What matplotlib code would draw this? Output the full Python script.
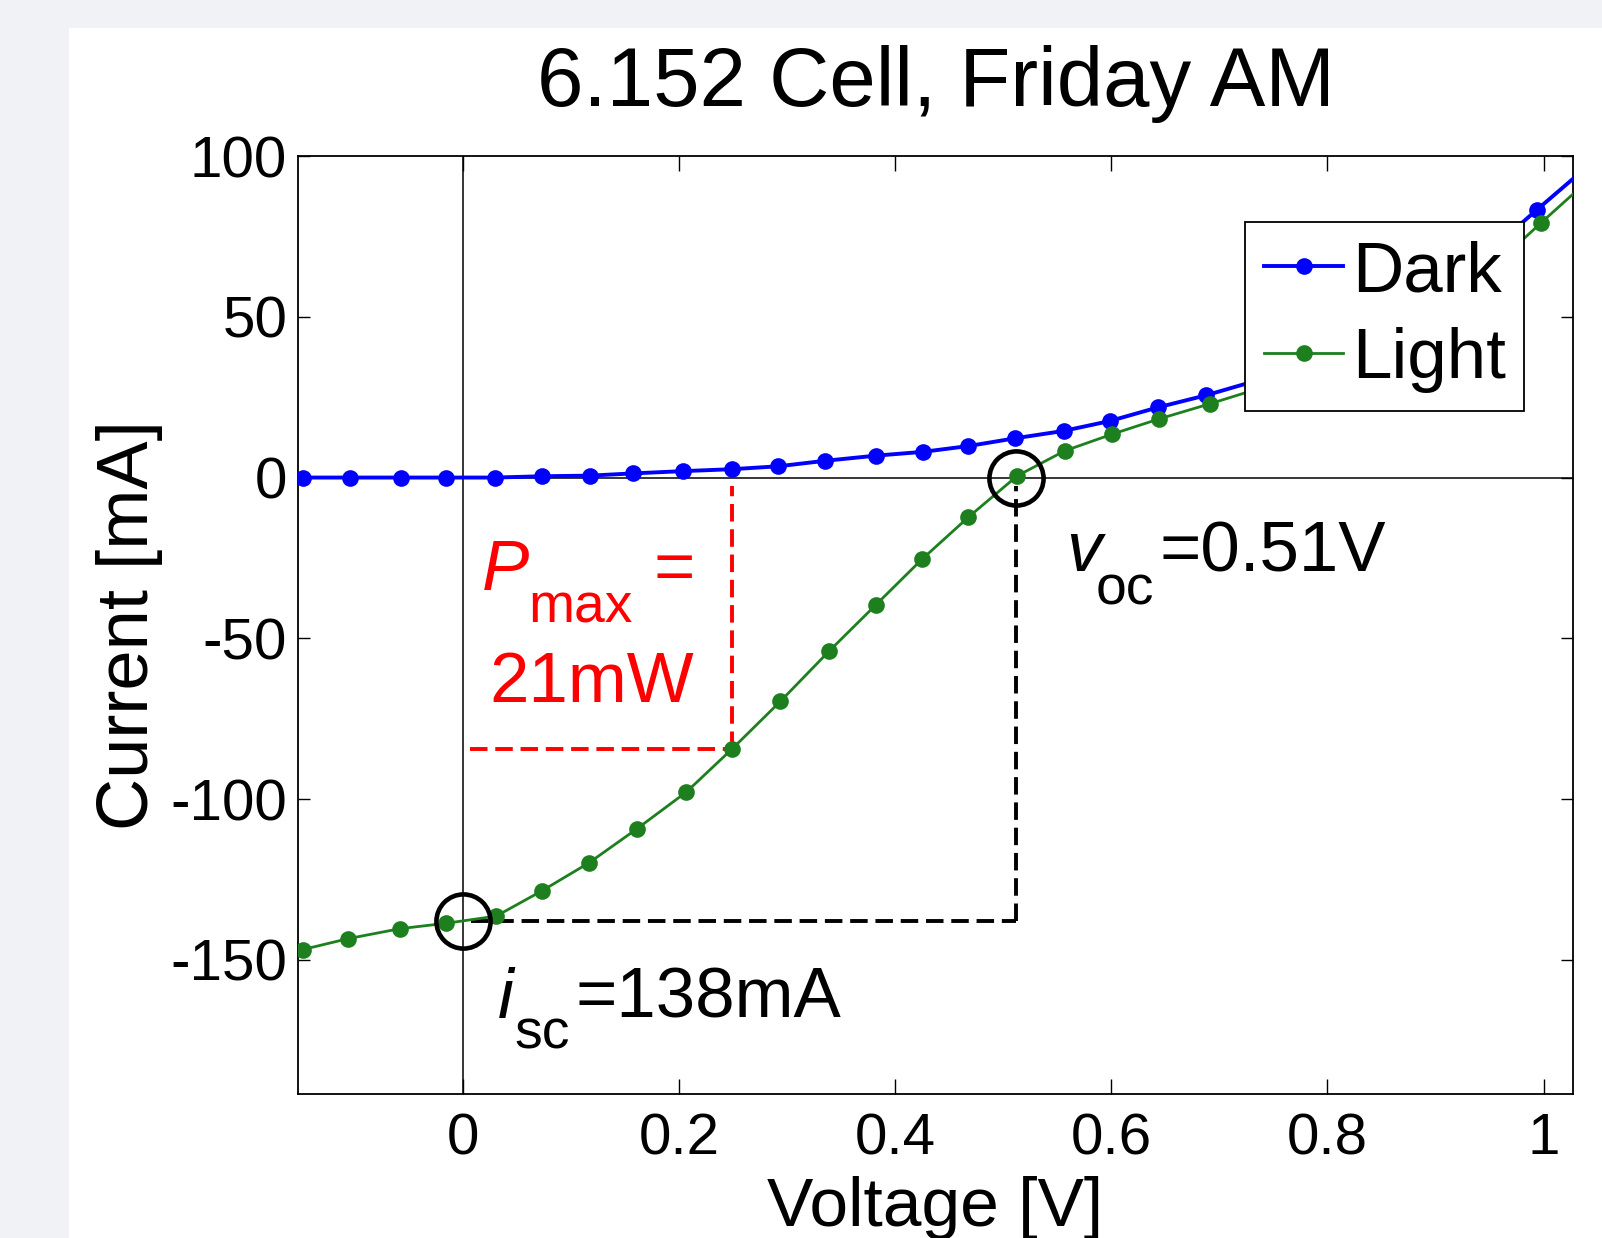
import matplotlib
matplotlib.use("Agg")
import matplotlib.pyplot as plt
from matplotlib.patches import Rectangle

# ---------------- data ----------------
dark_v = [-0.148, -0.104, -0.057, -0.015, 0.030, 0.073, 0.118, 0.158, 0.204, 0.249,
          0.292, 0.335, 0.382, 0.426, 0.468, 0.511, 0.556, 0.599, 0.643, 0.688,
          0.733, 0.777, 0.821, 0.865, 0.909, 0.952, 0.994, 1.038]
dark_i = [0.0, 0.0, 0.0, 0.0, 0.0, 0.4, 0.6, 1.3, 2.0, 2.6,
          3.5, 5.2, 6.8, 8.0, 9.8, 12.2, 14.5, 17.6, 21.8, 25.6,
          30.0, 36.0, 43.0, 51.0, 60.0, 71.0, 83.3, 96.0]

light_v = [-0.148, -0.106, -0.058, -0.015, 0.031, 0.073, 0.117, 0.161, 0.207, 0.249,
           0.294, 0.339, 0.382, 0.425, 0.468, 0.513, 0.557, 0.601, 0.644, 0.691,
           0.735, 0.779, 0.823, 0.867, 0.911, 0.955, 0.998, 1.040]
light_i = [-146.8, -143.4, -140.3, -138.6, -136.4, -128.6, -119.8, -109.3, -97.8, -84.5,
           -69.6, -54.0, -39.7, -25.4, -12.3, 0.5, 8.3, 13.5, 18.2, 22.9,
           27.5, 33.0, 40.0, 47.5, 56.0, 66.0, 79.3, 92.0]

isc = -138.0      # mA
voc = 0.512       # V
pmp_v = 0.249     # V
pmp_i = -84.5     # mA

xticks = [0, 0.2, 0.4, 0.6, 0.8, 1.0]
xticklabels = ["0", "0.2", "0.4", "0.6", "0.8", "1"]
yticks = [-150, -100, -50, 0, 50, 100]
yticklabels = ["-150", "-100", "-50", "0", "50", "100"]

title = "6.152 Cell, Friday AM"
xlabel = "Voltage [V]"
ylabel = "Current [mA]"

# ---------------- figure ----------------
plt.rcParams['font.family'] = ['Liberation Sans', 'DejaVu Sans']

W, H = 1602, 1238
fig = plt.figure(figsize=(W / 100, H / 100), dpi=100)
fig.patch.set_facecolor('#f0f2f5')
fig.add_artist(Rectangle((69 / W, 0), 1, 1 - 28 / H, transform=fig.transFigure,
                         facecolor='white', edgecolor='none', zorder=0))

ax = fig.add_axes([298.3 / W, 1 - 1094.3 / H, (1572.7 - 298.3) / W, (1094.3 - 156) / H])
ax.set_facecolor('white')
ax.set_xlim(-0.152, 1.027)
ax.set_ylim(-191.8, 100)

# reference axes lines
ax.axhline(0, color='black', lw=1.1, zorder=1)
ax.axvline(0, color='black', lw=1.1, zorder=1)

# data
blue = '#0000ff'
green = '#1e7f1e'
ax.plot(dark_v, dark_i, '-', color=blue, lw=2.8, marker='o', ms=12, mec='none',
        label='Dark', zorder=3)
ax.plot(light_v, light_i, '-', color=green, lw=2.0, marker='o', ms=12, mec='none',
        label='Light', zorder=3)

# Pmax rectangle (red dashed)
dash = (4.5, 2.0)
ax.plot([0.007, pmp_v], [pmp_i, pmp_i], color='red', lw=2.8, dashes=dash, zorder=2)
ax.plot([pmp_v, pmp_v], [pmp_i, -2.5], color='red', lw=2.8, dashes=dash, zorder=2)

# isc / voc (black dashed)
ax.plot([0.008, voc], [isc, isc], color='black', lw=2.8, dashes=dash, zorder=2)
ax.plot([voc, voc], [isc, -2.5], color='black', lw=2.8, dashes=dash, zorder=2)

# circles
ax.plot([0], [isc], 'o', ms=39, mfc='none', mec='black', mew=3.3, zorder=4)
ax.plot([voc], [0], 'o', ms=39, mfc='none', mec='black', mew=3.3, zorder=4)

# annotations
fs_ann = 51
ax.text(0.018, -34.9, "P", color='red', fontsize=fs_ann, fontstyle='italic',
        ha='left', va='baseline')
ax.text(0.061, -45.0, "max", color='red', fontsize=fs_ann * 0.78,
        ha='left', va='baseline')
ax.text(0.177, -34.9, "=", color='red', fontsize=fs_ann, ha='left', va='baseline')
ax.text(0.025, -69.9, "21mW", color='red', fontsize=fs_ann, ha='left', va='baseline')

ax.text(0.558, -29.1, "v", color='black', fontsize=fs_ann, fontstyle='italic',
        ha='left', va='baseline')
ax.text(0.586, -39.4, "oc", color='black', fontsize=fs_ann * 0.78,
        ha='left', va='baseline')
ax.text(0.645, -29.1, "=0.51V", color='black', fontsize=fs_ann, ha='left', va='baseline')

ax.text(0.033, -168.0, "i", color='black', fontsize=fs_ann, fontstyle='italic',
        ha='left', va='baseline')
ax.text(0.0475, -177.6, "sc", color='black', fontsize=fs_ann * 0.78,
        ha='left', va='baseline')
ax.text(0.104, -168.0, "=138mA", color='black', fontsize=fs_ann, ha='left', va='baseline')

# ticks
ax.set_xticks(xticks)
ax.set_xticklabels(xticklabels)
ax.set_yticks(yticks)
ax.set_yticklabels(yticklabels)
ax.tick_params(axis='both', which='both', direction='in', top=True, right=True,
               labelsize=42, width=1.0, color='black')
ax.tick_params(axis='x', length=10.5, pad=13)
ax.tick_params(axis='y', length=8.5, pad=8)
for s in ax.spines.values():
    s.set_linewidth(1.3)
    s.set_color('black')

ax.set_title(title, fontsize=60, pad=36)
ax.set_xlabel(xlabel, fontsize=50, labelpad=7)
ax.set_ylabel(ylabel, fontsize=52, labelpad=5)

leg = ax.legend(loc='upper right', bbox_to_anchor=(0.9618, 0.930), borderaxespad=0,
                fontsize=51, frameon=True, fancybox=False, handlelength=1.12,
                handletextpad=0.12, borderpad=0.26, labelspacing=0.29)
leg.get_frame().set_edgecolor('black')
leg.get_frame().set_linewidth(1.3)
leg.get_frame().set_alpha(1)

fig.savefig("out.png", dpi=100, facecolor=fig.get_facecolor())
